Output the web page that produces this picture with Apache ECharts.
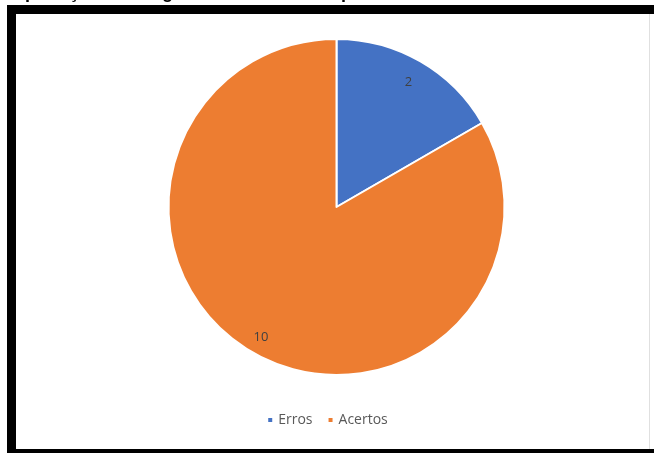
<!DOCTYPE html>
<html><head><meta charset="utf-8">
<script src="https://cdn.jsdelivr.net/npm/echarts@6/dist/echarts.min.js"></script>
<style>html,body{margin:0;padding:0;background:#fff}#c{width:654px;height:453px}</style>
</head><body><div id="c"></div>
<script>
const categories = ['Erros', 'Acertos'];
const values = [2, 10];
const colors = ['#4472C4', '#ED7D31'];
const headerText = 'Interpretação da imagem mediante o comportamento do conteúdo';

const chart = echarts.init(document.getElementById('c'), null, {renderer: 'canvas'});
const cx = 336.5, cy = 207, R = 168;
const labelDist = [144, 151];
chart.setOption({
  animation: false,
  backgroundColor: '#fff',
  legend: {
    bottom: 21, left: 'center',
    itemWidth: 6, itemHeight: 6, itemGap: 14, icon: 'rect',
    textStyle: {color: '#595959', fontSize: 14, fontFamily: 'Open Sans'},
    data: categories
  },
  graphic: [
    {type: 'text', left: -14, top: -16, style: {text: headerText, fill: '#000', font: 'bold 18px "Liberation Sans", Arial'}},
    {type: 'rect', shape: {x: 7, y: 5, width: 647, height: 9}, style: {fill: '#000'}},
    {type: 'rect', shape: {x: 7, y: 5, width: 9, height: 448}, style: {fill: '#000'}},
    {type: 'rect', shape: {x: 7, y: 449, width: 647, height: 4}, style: {fill: '#000'}},
    {type: 'rect', shape: {x: 649, y: 14, width: 1, height: 435}, style: {fill: '#e0e0e0'}}
  ],
  series: [{
    type: 'pie',
    center: [cx, cy],
    radius: [0, R],
    startAngle: 90,
    clockwise: true,
    data: categories.map((n, i) => ({name: n, value: values[i], itemStyle: {color: colors[i]}})),
    itemStyle: {borderColor: '#fff', borderWidth: 2},
    label: {show: true, position: 'inside', formatter: '{c}', color: '#404040', fontSize: 13, fontFamily: 'Open Sans'},
    labelLayout: function (p) {
      const r = p.labelRect;
      const lx = r.x + r.width / 2, ly = r.y + r.height / 2;
      const dx = lx - cx, dy = ly - cy, d = Math.hypot(dx, dy) || 1;
      const k = labelDist[p.dataIndex] / d;
      return {x: cx + dx * k, y: cy + dy * k, align: 'center', verticalAlign: 'middle'};
    },
    emphasis: {disabled: true}
  }]
});
</script></body></html>
